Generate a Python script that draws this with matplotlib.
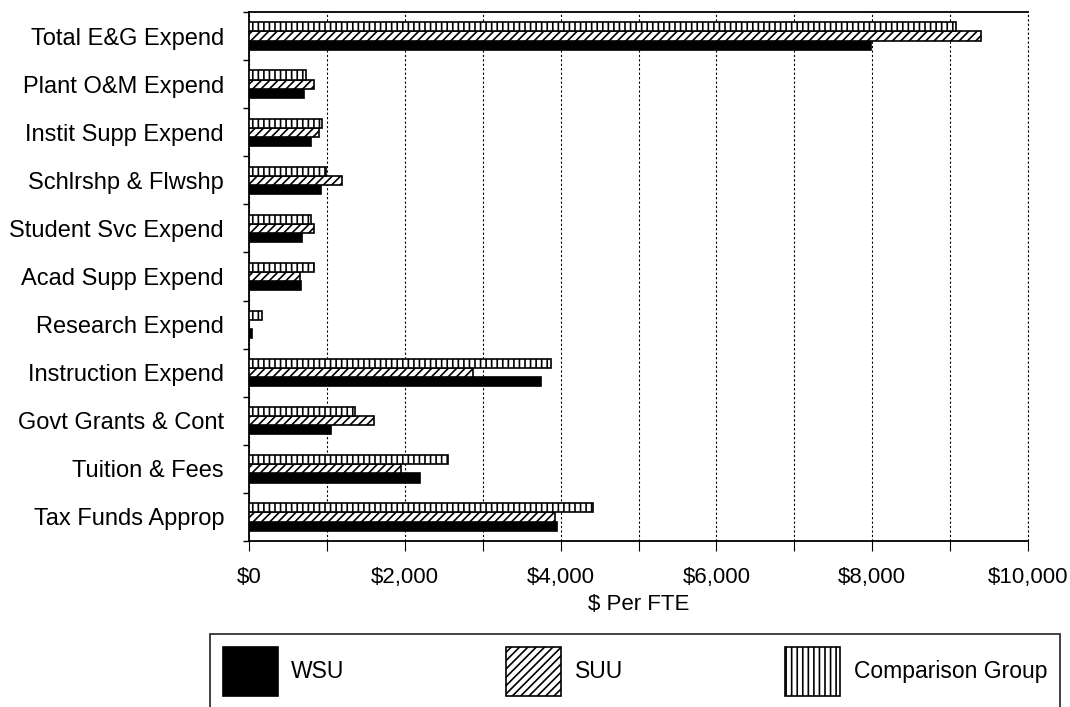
import matplotlib
matplotlib.use("Agg")
import matplotlib.pyplot as plt
import numpy as np
from matplotlib.ticker import FuncFormatter, MultipleLocator

plt.rcParams['font.family'] = ['Liberation Sans', 'DejaVu Sans']
plt.rcParams['hatch.linewidth'] = 1.2

# categories from bottom to top
categories = ['Tax Funds Approp', 'Tuition & Fees', 'Govt Grants & Cont',
              'Instruction Expend', 'Research Expend', 'Acad Supp Expend',
              'Student Svc Expend', 'Schlrshp & Flwshp', 'Instit Supp Expend',
              'Plant O&M Expend', 'Total E&G Expend']
wsu = [3960, 2190, 1050, 3750, 40, 670, 680, 920, 800, 710, 7980]
suu = [3930, 1950, 1600, 2880, 0, 660, 830, 1200, 900, 830, 9400]
comp = [4410, 2550, 1360, 3880, 170, 830, 790, 990, 940, 730, 9080]

fig = plt.figure(figsize=(10.7, 7.07), dpi=100)
ax = fig.add_axes([249/1070, 1 - 541/707, 779/1070, 529/707])

y = np.arange(len(categories))
h = 0.19
b1 = ax.barh(y - 0.19, wsu, height=h, color='black', edgecolor='black',
             linewidth=1.2, label='WSU', zorder=3)
b2 = ax.barh(y, suu, height=h, color='white', edgecolor='black',
             hatch='////', linewidth=1.2, label='SUU', zorder=3)
b3 = ax.barh(y + 0.19, comp, height=h, color='white', edgecolor='black',
             hatch='|||', linewidth=1.2, label='Comparison Group', zorder=3)

ax.set_xlim(0, 10000)
ax.set_ylim(-0.5, len(categories) - 0.5)
ax.set_yticks(y)
ax.set_yticklabels(categories, fontsize=17)
ax.set_yticks(np.arange(-0.5, len(categories), 1.0), minor=True)
ax.tick_params(axis='y', which='major', length=0, pad=18)
ax.tick_params(axis='y', which='minor', length=4, width=1, direction='out')

ax.xaxis.set_major_locator(MultipleLocator(2000))
ax.xaxis.set_minor_locator(MultipleLocator(1000))
ax.xaxis.set_major_formatter(FuncFormatter(lambda v, p: f'${v:,.0f}'))
ax.tick_params(axis='x', which='both', length=7, width=0.8, pad=12, labelsize=16)
ax.grid(axis='x', which='both', color='black', linestyle=(0, (2, 2)),
        linewidth=0.8, zorder=0)

ax.spines['right'].set_visible(False)
for s in ['left', 'top', 'bottom']:
    ax.spines[s].set_linewidth(1.3)
ax.axvline(10000, color='black', linestyle=(0, (2, 2)), linewidth=0.8, clip_on=False)

ax.set_xlabel('$ Per FTE', fontsize=16)
ax.xaxis.set_label_coords(0.5, -(594 - 541) / 529)

leg = fig.legend(handles=[b1, b2, b3], loc='upper left', ncol=3, mode='expand',
                 bbox_to_anchor=(210/1070, 0, 850/1070, 1 - 634/707),
                 fontsize=16.5, handlelength=2.4, handleheight=2.95,
                 handletextpad=0.6, borderpad=0.55, borderaxespad=0,
                 fancybox=False, frameon=True, edgecolor='black')
leg.get_frame().set_linewidth(1.3)

fig.savefig('out.png', dpi=100)
